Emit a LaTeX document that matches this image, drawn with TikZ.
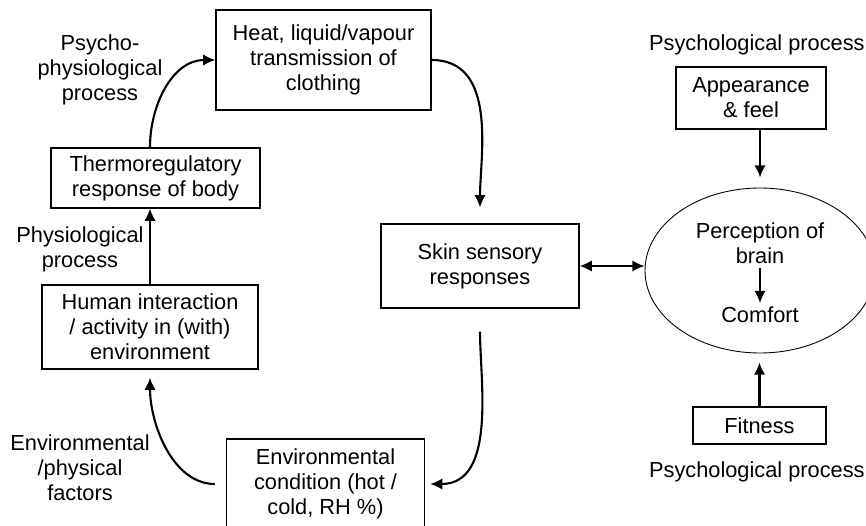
\documentclass[tikz,border=0pt]{standalone}
\usepackage{fontspec}
\setmainfont{Liberation Sans}
\usepackage{tikz}
\usetikzlibrary{shapes.geometric,arrows.meta}

\begin{document}
\begin{tikzpicture}[
	>={Latex[length=7pt,width=6.5pt]},
	box/.style={shape=rectangle,draw=black,line width=0.7pt,align=center,inner sep=0pt},
	txt/.style={align=center,inner sep=2pt},
	arr/.style={->, line width=1.2pt},
	font=\fontsize{12.4}{14.2}\selectfont
	]
	
	\clip (0,0) rectangle (17.32,10.5);
	
	\node[box,minimum width=4.3cm,minimum height=2cm] (heat) at (6.47, 9.30) {Heat, liquid/vapour\\transmission of\\clothing};
	\node[box,minimum width=4.18cm,minimum height=1.2cm] (thermo) at (3.11, 6.94) {Thermoregulatory\\response of body};
	\node[box,minimum width=4.32cm,minimum height=1.68cm] (human) at (3.0, 3.96) {Human interaction\\/ activity in (with)\\environment};
	\node[box,minimum width=3.96cm,minimum height=1.68cm] (skin) at (9.6, 5.18) {Skin sensory\\responses};
	\node[box,minimum width=3.96cm,minimum height=1.8cm] (envcond) at (6.51, 0.82) {Environmental\\condition (hot /\\cold, RH \%)};
	\node[box,minimum width=3.0cm,minimum height=1.24cm] (appear) at (15.02, 8.54) {Appearance\\\& feel};
	\node[box,minimum width=2.66cm,minimum height=0.74cm] (fitness) at (15.19, 1.99) {Fitness};
	
	\node[shape=ellipse,draw=black,line width=0.5pt,minimum width=4.6cm,minimum height=3.3cm,inner sep=0pt] (ring) at (15.2, 5.09) {};
	\node[txt] (percept) at (15.2, 5.63) {Perception of\\brain};
	\node[txt] (comfort) at (15.2, 4.20) {Comfort};
	
	\node[txt] (psyphys) at (2.0, 9.10) {Psycho-\\physiological\\process};
	\node[txt] (phys) at (1.6, 5.52) {Physiological\\process};
	\node[txt] (envphys) at (1.6, 1.14) {Environmental\\/physical\\factors};
	\node[txt,anchor=east,inner sep=0pt] (psytop) at (17.30, 9.60) {Psychological process};
	\node[txt,anchor=east,inner sep=0pt] (psybot) at (17.30, 1.06) {Psychological process};
	
	\path[arr] (human.north) edge (human.north |- thermo.south);
	\path[arr] (thermo.north -| human.north) edge[out=90, in=180] (heat.west);
	\path[arr, shorten >=0.32cm] (heat.east) edge[out=0, in=90] (skin.north);
	\path[arr, shorten <=0.46cm, shorten >=0.1cm] (skin.south) edge[out=-90, in=0] (envcond.east);
	\path[arr, shorten <=0.22cm, shorten >=0.16cm] (envcond.west) edge[out=180, in=-90] (human.south);
	\path[<->, line width=1.2pt] (skin.east) edge (skin.east -| ring.west);
	\path[arr, shorten >=0.2cm] (appear.south -| ring.north) edge (ring.north);
	\path[arr, shorten >=0.18cm] (fitness.north) edge (fitness.north |- ring.south);
	\path[arr] (percept) edge (comfort);
	
\end{tikzpicture}
\end{document}
